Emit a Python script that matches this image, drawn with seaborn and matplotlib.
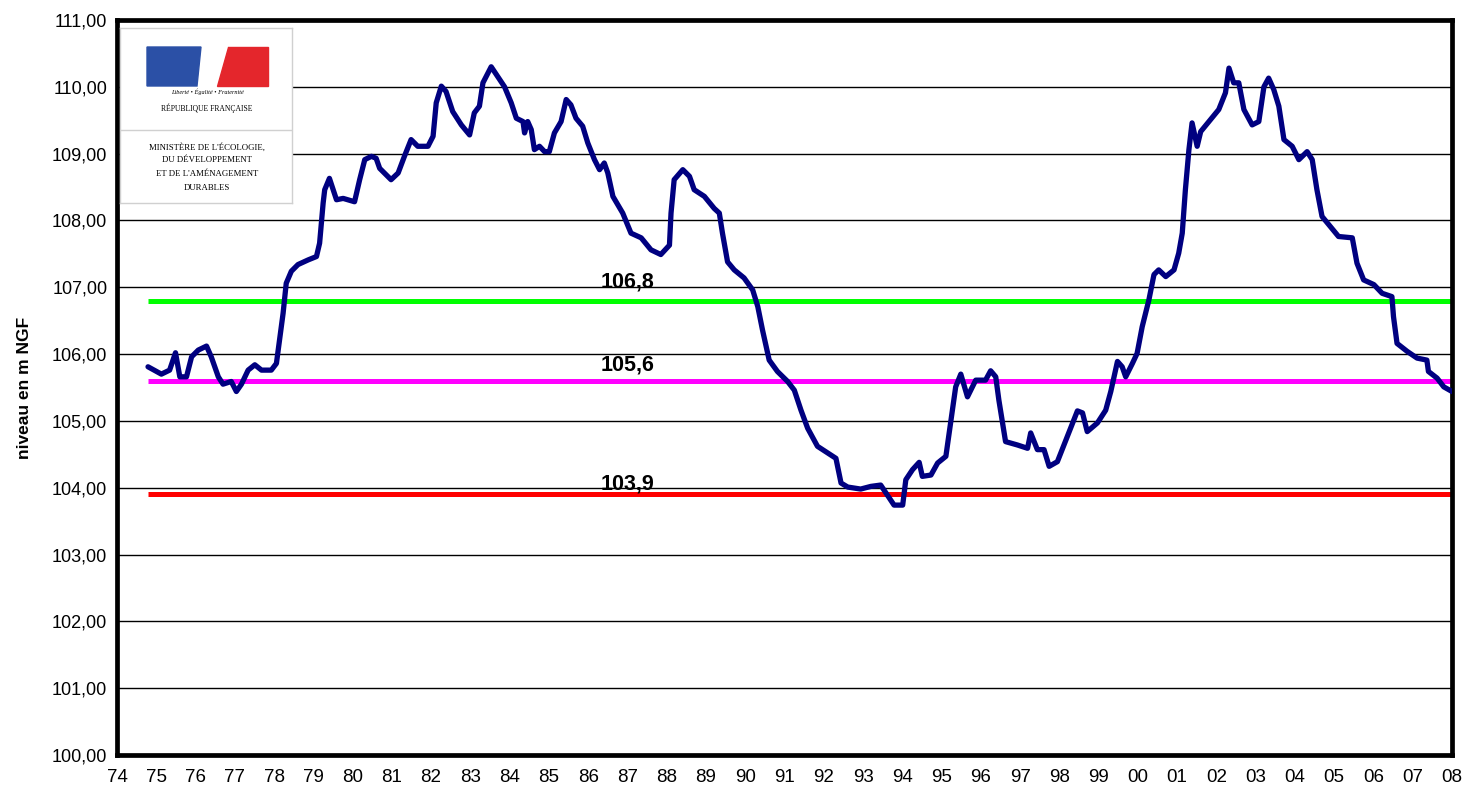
import numpy as np
import pandas as pd
import seaborn as sns
import matplotlib.pyplot as plt
from matplotlib.patches import Rectangle, Polygon

# niveau piezometrique (m NGF)
years = [1974.79, 1975.13, 1975.34, 1975.49, 1975.60, 1975.77, 1975.90, 1976.07, 1976.28, 1976.40,
         1976.58, 1976.70, 1976.91, 1977.04, 1977.17, 1977.34, 1977.51, 1977.68, 1977.93, 1978.06,
         1978.14, 1978.23, 1978.31, 1978.44, 1978.61, 1978.87, 1979.08, 1979.16, 1979.25, 1979.29,
         1979.41, 1979.59, 1979.76, 1980.05, 1980.18, 1980.31, 1980.48, 1980.60, 1980.69, 1980.98,
         1981.16, 1981.32, 1981.49, 1981.66, 1981.92, 1982.05, 1982.13, 1982.26, 1982.38, 1982.55,
         1982.77, 1982.98, 1983.10, 1983.23, 1983.32, 1983.53, 1983.70, 1983.87, 1984.04, 1984.17,
         1984.34, 1984.38, 1984.46, 1984.55, 1984.63, 1984.76, 1984.89, 1985.01, 1985.14, 1985.31,
         1985.44, 1985.56, 1985.69, 1985.86, 1985.99, 1986.16, 1986.29, 1986.41, 1986.50, 1986.63,
         1986.88, 1987.09, 1987.35, 1987.60, 1987.85, 1988.07, 1988.11, 1988.19, 1988.41, 1988.58,
         1988.70, 1988.96, 1989.21, 1989.34, 1989.42, 1989.55, 1989.72, 1989.97, 1990.19, 1990.32,
         1990.44, 1990.61, 1990.82, 1991.08, 1991.25, 1991.42, 1991.59, 1991.84, 1992.10, 1992.31,
         1992.44, 1992.61, 1992.94, 1993.20, 1993.45, 1993.62, 1993.79, 1994.01, 1994.09, 1994.26,
         1994.43, 1994.51, 1994.73, 1994.90, 1995.11, 1995.23, 1995.36, 1995.49, 1995.66, 1995.87,
         1996.12, 1996.25, 1996.38, 1996.46, 1996.63, 1996.93, 1997.19, 1997.27, 1997.44, 1997.61,
         1997.74, 1997.95, 1998.24, 1998.46, 1998.59, 1998.71, 1998.97, 1999.18, 1999.31, 1999.48,
         1999.60, 1999.69, 1999.86, 1999.98, 2000.11, 2000.28, 2000.41, 2000.53, 2000.71, 2000.92,
         2001.04, 2001.13, 2001.21, 2001.30, 2001.38, 2001.51, 2001.60, 2001.85, 2002.06, 2002.23,
         2002.32, 2002.44, 2002.57, 2002.70, 2002.91, 2003.08, 2003.21, 2003.33, 2003.46, 2003.59,
         2003.72, 2003.93, 2004.10, 2004.31, 2004.44, 2004.56, 2004.69, 2004.90, 2005.11, 2005.46,
         2005.58, 2005.75, 2006.01, 2006.22, 2006.47, 2006.51, 2006.60, 2006.86, 2007.11, 2007.36,
         2007.40, 2007.62, 2007.79, 2008.00]
levels = [105.81, 105.70, 105.76, 106.02, 105.66, 105.66, 105.96, 106.06, 106.12, 105.96,
          105.66, 105.55, 105.59, 105.44, 105.55, 105.76, 105.84, 105.76, 105.76, 105.86,
          106.21, 106.61, 107.06, 107.24, 107.34, 107.41, 107.46, 107.66, 108.26, 108.46,
          108.63, 108.31, 108.33, 108.28, 108.61, 108.91, 108.96, 108.93, 108.78, 108.61,
          108.71, 108.96, 109.21, 109.11, 109.11, 109.26, 109.76, 110.01, 109.93, 109.63,
          109.43, 109.28, 109.61, 109.71, 110.06, 110.30, 110.15, 110.00, 109.76, 109.53,
          109.48, 109.31, 109.48, 109.36, 109.06, 109.11, 109.03, 109.03, 109.31, 109.48,
          109.81, 109.73, 109.53, 109.41, 109.16, 108.91, 108.76, 108.86, 108.71, 108.36,
          108.11, 107.81, 107.74, 107.56, 107.49, 107.63, 108.11, 108.61, 108.76, 108.66,
          108.46, 108.36, 108.18, 108.11, 107.81, 107.38, 107.26, 107.14, 106.96, 106.71,
          106.36, 105.91, 105.74, 105.59, 105.46, 105.16, 104.89, 104.62, 104.52, 104.44,
          104.07, 104.01, 103.98, 104.02, 104.04, 103.89, 103.74, 103.74, 104.12, 104.27,
          104.38, 104.17, 104.19, 104.37, 104.47, 104.97, 105.51, 105.70, 105.36, 105.61,
          105.61, 105.75, 105.66, 105.31, 104.69, 104.64, 104.59, 104.82, 104.57, 104.57,
          104.32, 104.39, 104.82, 105.15, 105.12, 104.84, 104.97, 105.16, 105.44, 105.89,
          105.81, 105.66, 105.86, 106.01, 106.41, 106.81, 107.19, 107.26, 107.16, 107.26,
          107.51, 107.81, 108.46, 109.06, 109.46, 109.11, 109.33, 109.51, 109.66, 109.91,
          110.28, 110.06, 110.06, 109.66, 109.43, 109.48, 110.00, 110.13, 109.96, 109.71,
          109.21, 109.11, 108.91, 109.03, 108.91, 108.46, 108.06, 107.91, 107.76, 107.74,
          107.36, 107.11, 107.04, 106.91, 106.86, 106.56, 106.16, 106.04, 105.94, 105.91,
          105.74, 105.64, 105.51, 105.44]

thresholds = [106.8, 105.6, 103.9]
threshold_colors = ['#00ff00', '#ff00ff', '#ff0000']
label_year = 1987.0
label_offsets = [6, 4, 0]  # points au-dessus de la ligne

year_ticks = list(range(1974, 2009))
level_ticks = list(range(100, 112))

ministry = ["MINISTÈRE DE L'ÉCOLOGIE,", "DU DÉVELOPPEMENT",
            "ET DE L'AMÉNAGEMENT", "DURABLES"]

sns.set_style("white")
plt.rcParams['font.family'] = ['Liberation Sans', 'DejaVu Sans']
plt.rcParams['text.color'] = 'black'
plt.rcParams['axes.labelcolor'] = 'black'
plt.rcParams['xtick.color'] = 'black'
plt.rcParams['ytick.color'] = 'black'

df = pd.DataFrame({'annee': years, 'niveau': levels})

fig = plt.figure(figsize=(14.68, 7.92), dpi=100)
ax = fig.add_axes([117 / 1468, 37 / 792, 1335 / 1468, 735 / 792])

for yv in level_ticks[1:-1]:
    ax.axhline(yv, color='black', lw=1.0, zorder=1)

for v, c, off in zip(thresholds, threshold_colors, label_offsets):
    ax.hlines(v, years[0], 2008, color=c, lw=3.6, zorder=2)
    ax.annotate(f"{v:.1f}".replace('.', ','), xy=(label_year, v), xytext=(0, off),
                textcoords='offset points', ha='center', va='bottom',
                fontsize=15.5, fontweight='bold', color='black', zorder=4)

sns.lineplot(data=df, x='annee', y='niveau', color='#000080', lw=3.8, ax=ax, zorder=3)

ax.set_xlim(1974, 2008)
ax.set_ylim(100, 111)
ax.set_xticks(year_ticks)
ax.set_xticklabels([f"{y % 100:02d}" for y in year_ticks], fontsize=13.5)
ax.set_yticks(level_ticks)
ax.set_yticklabels([f"{v:.2f}".replace('.', ',') for v in level_ticks], fontsize=13)
ax.tick_params(axis='x', direction='inout', length=10, width=1.2, color='black', pad=5)
ax.tick_params(axis='y', direction='out', length=5, width=1.2, color='black', pad=2)
ax.set_xlabel('')
ax.set_ylabel('niveau en m NGF', fontsize=12.5, fontweight='bold', labelpad=14)
for s in ax.spines.values():
    s.set_visible(True)
    s.set_color('black')
    s.set_linewidth(3.4)

# logo
lg = fig.add_axes([120 / 1468, (792 - 203) / 792, 172 / 1468, 175 / 792])
lg.set_xlim(0, 172)
lg.set_ylim(175, 0)
lg.set_xticks([])
lg.set_yticks([])
lg.set_facecolor('white')
for s in lg.spines.values():
    s.set_color('#d0d0d0')
    s.set_linewidth(1.0)
lg.plot([0, 172], [102, 102], color='#d0d0d0', lw=1.0)
lg.add_patch(Polygon([[27, 19], [81, 19], [77, 58], [27, 58]], closed=True, color='#2b50a6'))
lg.add_patch(Polygon([[108, 19], [148, 19], [148, 58], [97, 58]], closed=True, color='#e4262c'))
lg.text(87, 64, 'Liberté • Égalité • Fraternité', ha='center', va='center',
        fontsize=4.5, style='italic', family='Liberation Serif')
lg.text(87, 80, 'RÉPUBLIQUE FRANÇAISE', ha='center', va='center',
        fontsize=5.5, family='Liberation Serif')
for i, line in enumerate(ministry):
    lg.text(87, 119 + i * 13.5, line, ha='center', va='center',
            fontsize=6.3, family='Liberation Serif')

fig.savefig('out.png', dpi=100)
